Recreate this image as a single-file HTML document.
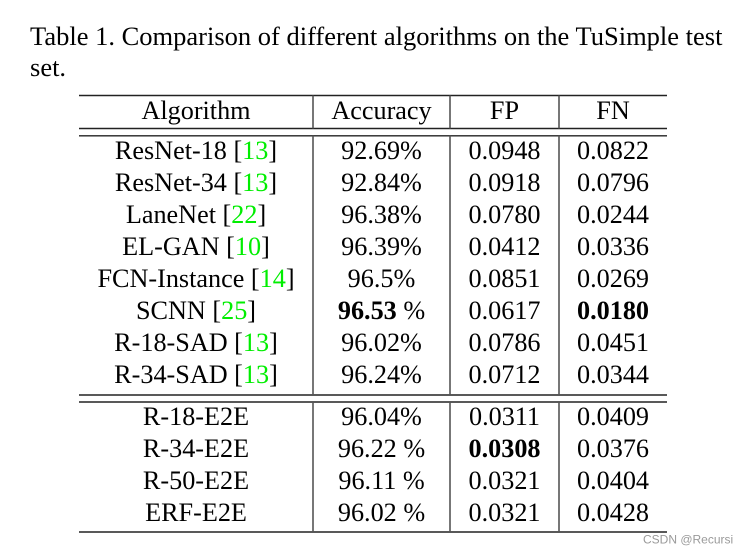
<!DOCTYPE html>
<html>
<head>
<meta charset="utf-8">
<style>
  html, body { margin:0; padding:0; background:#fff; }
  svg { display:block; }
  .t { font-family:"Liberation Serif", "Times New Roman", serif; font-size:26.2px; fill:#000; }
  .c { text-anchor:middle; }
  .g { fill:#00ee00; }
  .b { font-weight:bold; }
  .wm { font-family:"Liberation Sans", Arial, sans-serif; font-size:12px; fill:#9a9a9a; }
</style>
</head>
<body>
<svg width="748" height="553" viewBox="0 0 748 553" xmlns="http://www.w3.org/2000/svg">
  <rect width="748" height="553" fill="#fff"/>

  <!-- caption -->
  <text class="t" x="30" y="45" style="font-size:26.5px">Table 1. Comparison of different algorithms on the TuSimple test</text>
  <text class="t" x="30" y="76" style="font-size:26.5px">set.</text>

  <!-- horizontal rules -->
  <g stroke="#222" stroke-width="1.4">
    <line x1="79" y1="95.5" x2="667" y2="95.5"/>
    <line x1="79" y1="128.5" x2="667" y2="128.5"/>
    <line x1="79" y1="135.8" x2="667" y2="135.8"/>
    <line x1="79" y1="395" x2="667" y2="395"/>
    <line x1="79" y1="402" x2="667" y2="402"/>
    <line x1="79" y1="532" x2="667" y2="532"/>
  </g>

  <!-- vertical rules -->
  <g stroke="#555" stroke-width="1.6">
    <line x1="313" y1="95.5" x2="313" y2="128.5"/>
    <line x1="313" y1="135.8" x2="313" y2="395"/>
    <line x1="313" y1="402" x2="313" y2="532"/>
    <line x1="450" y1="95.5" x2="450" y2="128.5"/>
    <line x1="450" y1="135.8" x2="450" y2="395"/>
    <line x1="450" y1="402" x2="450" y2="532"/>
    <line x1="559" y1="95.5" x2="559" y2="128.5"/>
    <line x1="559" y1="135.8" x2="559" y2="395"/>
    <line x1="559" y1="402" x2="559" y2="532"/>
  </g>

  <!-- header -->
  <text class="t c" x="196" y="119">Algorithm</text>
  <text class="t c" x="381.5" y="119">Accuracy</text>
  <text class="t c" x="504.5" y="119">FP</text>
  <text class="t c" x="613" y="119">FN</text>

  <!-- rows group 1 -->
  <text class="t c" x="196" y="159">ResNet-18 [<tspan class="g">13</tspan>]</text>
  <text class="t c" x="381.5" y="159">92.69%</text>
  <text class="t c" x="504.5" y="159">0.0948</text>
  <text class="t c" x="613" y="159">0.0822</text>

  <text class="t c" x="196" y="191">ResNet-34 [<tspan class="g">13</tspan>]</text>
  <text class="t c" x="381.5" y="191">92.84%</text>
  <text class="t c" x="504.5" y="191">0.0918</text>
  <text class="t c" x="613" y="191">0.0796</text>

  <text class="t c" x="196" y="223">LaneNet [<tspan class="g">22</tspan>]</text>
  <text class="t c" x="381.5" y="223">96.38%</text>
  <text class="t c" x="504.5" y="223">0.0780</text>
  <text class="t c" x="613" y="223">0.0244</text>

  <text class="t c" x="196" y="255">EL-GAN [<tspan class="g">10</tspan>]</text>
  <text class="t c" x="381.5" y="255">96.39%</text>
  <text class="t c" x="504.5" y="255">0.0412</text>
  <text class="t c" x="613" y="255">0.0336</text>

  <text class="t c" x="196" y="287">FCN-Instance [<tspan class="g">14</tspan>]</text>
  <text class="t c" x="381.5" y="287">96.5%</text>
  <text class="t c" x="504.5" y="287">0.0851</text>
  <text class="t c" x="613" y="287">0.0269</text>

  <text class="t c" x="196" y="319">SCNN [<tspan class="g">25</tspan>]</text>
  <text class="t c" x="381.5" y="319"><tspan class="b">96.53</tspan> %</text>
  <text class="t c" x="504.5" y="319">0.0617</text>
  <text class="t c b" x="613" y="319">0.0180</text>

  <text class="t c" x="196" y="351">R-18-SAD [<tspan class="g">13</tspan>]</text>
  <text class="t c" x="381.5" y="351">96.02%</text>
  <text class="t c" x="504.5" y="351">0.0786</text>
  <text class="t c" x="613" y="351">0.0451</text>

  <text class="t c" x="196" y="383">R-34-SAD [<tspan class="g">13</tspan>]</text>
  <text class="t c" x="381.5" y="383">96.24%</text>
  <text class="t c" x="504.5" y="383">0.0712</text>
  <text class="t c" x="613" y="383">0.0344</text>

  <!-- rows group 2 -->
  <text class="t c" x="196" y="425">R-18-E2E</text>
  <text class="t c" x="381.5" y="425">96.04%</text>
  <text class="t c" x="504.5" y="425">0.0311</text>
  <text class="t c" x="613" y="425">0.0409</text>

  <text class="t c" x="196" y="457">R-34-E2E</text>
  <text class="t c" x="381.5" y="457">96.22 %</text>
  <text class="t c b" x="504.5" y="457">0.0308</text>
  <text class="t c" x="613" y="457">0.0376</text>

  <text class="t c" x="196" y="489">R-50-E2E</text>
  <text class="t c" x="381.5" y="489">96.11 %</text>
  <text class="t c" x="504.5" y="489">0.0321</text>
  <text class="t c" x="613" y="489">0.0404</text>

  <text class="t c" x="196" y="521">ERF-E2E</text>
  <text class="t c" x="381.5" y="521">96.02 %</text>
  <text class="t c" x="504.5" y="521">0.0321</text>
  <text class="t c" x="613" y="521">0.0428</text>

  <!-- watermark -->
  <text class="wm" x="643" y="543.5">CSDN @Recursi</text>
</svg>
</body>
</html>
